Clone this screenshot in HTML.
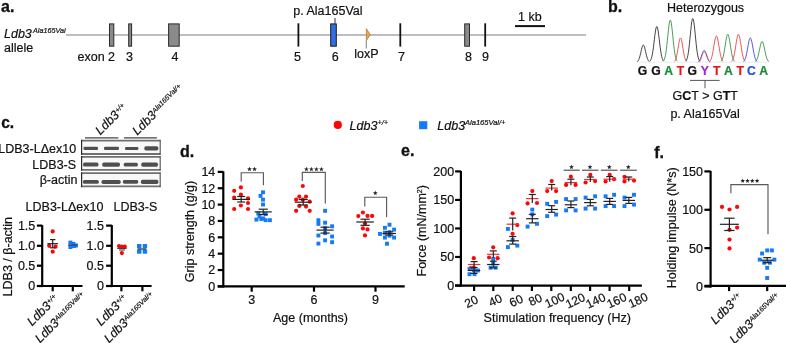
<!DOCTYPE html>
<html><head><meta charset="utf-8"><style>
html,body{margin:0;padding:0;background:#fff;width:786px;height:343px;overflow:hidden}
svg{display:block;will-change:transform;font-family:"Liberation Sans",sans-serif}
text{stroke-width:0.2px}
</style></head><body>
<svg width="786" height="343" viewBox="0 0 786 343">
<rect width="786" height="343" fill="#fff"/>
<text x="1" y="12.3" font-size="16" text-anchor="start" font-weight="bold" font-style="normal" fill="#111" stroke="#111" style="stroke-width:0.3px">a.</text>
<text x="4" y="37.6" font-size="12.5" text-anchor="start" font-weight="normal" font-style="italic" fill="#111"  stroke="#111">Ldb3</text>
<text x="33" y="33.4" font-size="7.2" text-anchor="start" font-weight="normal" font-style="italic" fill="#111"  stroke="#111">Ala165Val</text>
<text x="4" y="52.3" font-size="12.5" text-anchor="start" font-weight="normal" font-style="normal" fill="#111"  stroke="#111">allele</text>
<line x1="66" y1="35" x2="586" y2="35" stroke="#a8a8a8" stroke-width="1.6" />
<rect x="109.5" y="23.9" width="4.299999999999997" height="22.3" fill="#8a8a8a" stroke="#2a2a2a" stroke-width="1"/>
<rect x="128.7" y="23.9" width="2.9000000000000057" height="22.3" fill="#8a8a8a" stroke="#2a2a2a" stroke-width="1"/>
<rect x="168.6" y="23.9" width="10.599999999999994" height="22.3" fill="#8a8a8a" stroke="#2a2a2a" stroke-width="1"/>
<rect x="464.7" y="23.9" width="4.800000000000011" height="22.3" fill="#8a8a8a" stroke="#2a2a2a" stroke-width="1"/>
<rect x="330.7" y="23.9" width="5.6" height="22.3" fill="#2f6ee8" stroke="#1a1a1a" stroke-width="1"/>
<line x1="298.4" y1="23.3" x2="298.4" y2="46.6" stroke="#111" stroke-width="1.8" />
<line x1="400.3" y1="23.3" x2="400.3" y2="46.6" stroke="#111" stroke-width="1.8" />
<line x1="485.2" y1="23.3" x2="485.2" y2="46.6" stroke="#111" stroke-width="1.8" />
<line x1="335" y1="18" x2="335" y2="23.7" stroke="#333" stroke-width="1" />
<polygon points="366.3,28.6 370.3,34.6 366.3,40.8" fill="#f0a43a" stroke="#8a6a40" stroke-width="0.6"/>
<line x1="366.3" y1="40.8" x2="366.3" y2="48.4" stroke="#8a8a8a" stroke-width="1.1" />
<line x1="515" y1="26.1" x2="545" y2="26.1" stroke="#111" stroke-width="2" />
<text x="77.5" y="61" font-size="12.5" text-anchor="start" font-weight="normal" font-style="normal" fill="#111"  stroke="#111">exon 2</text>
<text x="126" y="61" font-size="12.5" text-anchor="start" font-weight="normal" font-style="normal" fill="#111"  stroke="#111">3</text>
<text x="171.4" y="61" font-size="12.5" text-anchor="start" font-weight="normal" font-style="normal" fill="#111"  stroke="#111">4</text>
<text x="293.9" y="61" font-size="12.5" text-anchor="start" font-weight="normal" font-style="normal" fill="#111"  stroke="#111">5</text>
<text x="331.7" y="61" font-size="12.5" text-anchor="start" font-weight="normal" font-style="normal" fill="#111"  stroke="#111">6</text>
<text x="398.1" y="61" font-size="12.5" text-anchor="start" font-weight="normal" font-style="normal" fill="#111"  stroke="#111">7</text>
<text x="465.1" y="61" font-size="12.5" text-anchor="start" font-weight="normal" font-style="normal" fill="#111"  stroke="#111">8</text>
<text x="482.1" y="61" font-size="12.5" text-anchor="start" font-weight="normal" font-style="normal" fill="#111"  stroke="#111">9</text>
<text x="354.2" y="57.8" font-size="12.5" text-anchor="start" font-weight="normal" font-style="normal" fill="#111"  stroke="#111">loxP</text>
<text x="293.3" y="15.2" font-size="12.5" text-anchor="start" font-weight="normal" font-style="normal" fill="#111"  stroke="#111">p. Ala165Val</text>
<text x="518" y="21" font-size="12.5" text-anchor="start" font-weight="normal" font-style="normal" fill="#111"  stroke="#111">1 kb</text>
<text x="608" y="11.9" font-size="16" text-anchor="start" font-weight="bold" font-style="normal" fill="#111" stroke="#111" style="stroke-width:0.3px">b.</text>
<text x="667" y="11.8" font-size="12.5" text-anchor="start" font-weight="normal" font-style="normal" fill="#111"  stroke="#111">Heterozygous</text>
<polyline points="637.02,61.75 637.47,61.46 637.92,61.02 638.37,60.39 638.81,59.52 639.26,58.39 639.71,56.97 640.16,55.29 640.61,53.39 641.06,51.40 641.51,49.43 641.95,47.65 642.40,46.23 642.85,45.32 643.30,45.00 643.75,45.32 644.20,46.23 644.65,47.65 645.09,49.43 645.54,51.40 645.99,53.39 646.44,55.29 646.89,56.97 647.34,58.39 647.79,59.52 648.23,60.39 648.68,61.02 649.13,61.46 649.58,61.75" fill="none" stroke="#222" stroke-width="0.85" stroke-linejoin="round"/>
<polyline points="649.89,61.27 650.39,60.66 650.88,59.75 651.37,58.44 651.87,56.64 652.36,54.28 652.85,51.34 653.35,47.85 653.84,43.92 654.33,39.77 654.83,35.69 655.32,32.00 655.81,29.06 656.31,27.16 656.80,26.50 657.29,27.16 657.79,29.06 658.28,32.00 658.77,35.69 659.27,39.77 659.76,43.92 660.25,47.85 660.75,51.34 661.24,54.28 661.73,56.64 662.23,58.44 662.72,59.75 663.21,60.66 663.71,61.27" fill="none" stroke="#222" stroke-width="0.85" stroke-linejoin="round"/>
<polyline points="663.39,61.10 663.89,60.38 664.38,59.31 664.87,57.76 665.37,55.64 665.86,52.87 666.35,49.39 666.85,45.27 667.34,40.65 667.83,35.75 668.33,30.94 668.82,26.59 669.31,23.12 669.81,20.88 670.30,20.10 670.79,20.88 671.29,23.12 671.78,26.59 672.27,30.94 672.77,35.75 673.26,40.65 673.75,45.27 674.25,49.39 674.74,52.87 675.23,55.64 675.73,57.76 676.22,59.31 676.71,60.38 677.21,61.10" fill="none" stroke="#2a8a3a" stroke-width="0.85" stroke-linejoin="round"/>
<polyline points="674.22,61.57 674.67,61.15 675.12,60.53 675.57,59.64 676.01,58.42 676.46,56.81 676.91,54.81 677.36,52.43 677.81,49.76 678.26,46.94 678.71,44.15 679.15,41.65 679.60,39.64 680.05,38.35 680.50,37.90 680.95,38.35 681.40,39.64 681.85,41.65 682.29,44.15 682.74,46.94 683.19,49.76 683.64,52.43 684.09,54.81 684.54,56.81 684.99,58.42 685.43,59.64 685.88,60.53 686.33,61.15 686.78,61.57" fill="none" stroke="#e83a3a" stroke-width="0.85" stroke-linejoin="round"/>
<polyline points="685.89,61.06 686.39,60.31 686.88,59.20 687.37,57.60 687.87,55.40 688.36,52.51 688.85,48.91 689.35,44.63 689.84,39.83 690.33,34.75 690.83,29.75 691.32,25.23 691.81,21.63 692.31,19.31 692.80,18.50 693.29,19.31 693.79,21.63 694.28,25.23 694.77,29.75 695.27,34.75 695.76,39.83 696.25,44.63 696.75,48.91 697.24,52.51 697.73,55.40 698.23,57.60 698.72,59.20 699.21,60.31 699.71,61.06" fill="none" stroke="#222" stroke-width="0.85" stroke-linejoin="round"/>
<polyline points="697.82,61.89 698.27,61.69 698.72,61.39 699.17,60.96 699.61,60.36 700.06,59.58 700.51,58.61 700.96,57.46 701.41,56.16 701.86,54.79 702.31,53.44 702.75,52.22 703.20,51.25 703.65,50.62 704.10,50.40 704.55,50.62 705.00,51.25 705.45,52.22 705.89,53.44 706.34,54.79 706.79,56.16 707.24,57.46 707.69,58.61 708.14,59.58 708.59,60.36 709.03,60.96 709.48,61.39 709.93,61.69 710.38,61.89" fill="none" stroke="#3a3ae8" stroke-width="0.85" stroke-linejoin="round"/>
<polyline points="709.49,61.52 709.99,61.07 710.48,60.40 710.97,59.44 711.47,58.12 711.96,56.39 712.45,54.23 712.95,51.67 713.44,48.79 713.93,45.74 714.43,42.74 714.92,40.04 715.41,37.88 715.91,36.48 716.40,36.00 716.89,36.48 717.39,37.88 717.88,40.04 718.37,42.74 718.87,45.74 719.36,48.79 719.85,51.67 720.35,54.23 720.84,56.39 721.33,58.12 721.83,59.44 722.32,60.40 722.81,61.07 723.31,61.52" fill="none" stroke="#e83a3a" stroke-width="0.85" stroke-linejoin="round"/>
<polyline points="720.89,61.47 721.39,61.00 721.88,60.28 722.37,59.26 722.87,57.86 723.36,56.01 723.85,53.71 724.35,50.98 724.84,47.92 725.33,44.67 725.83,41.48 726.32,38.60 726.81,36.30 727.31,34.81 727.80,34.30 728.29,34.81 728.79,36.30 729.28,38.60 729.77,41.48 730.27,44.67 730.76,47.92 731.25,50.98 731.75,53.71 732.24,56.01 732.73,57.86 733.23,59.26 733.72,60.28 734.21,61.00 734.71,61.47" fill="none" stroke="#2a8a3a" stroke-width="0.85" stroke-linejoin="round"/>
<polyline points="731.49,61.47 731.99,61.00 732.48,60.28 732.97,59.26 733.47,57.86 733.96,56.01 734.45,53.71 734.95,50.98 735.44,47.92 735.93,44.67 736.43,41.48 736.92,38.60 737.41,36.30 737.91,34.81 738.40,34.30 738.89,34.81 739.39,36.30 739.88,38.60 740.37,41.48 740.87,44.67 741.36,47.92 741.85,50.98 742.35,53.71 742.84,56.01 743.33,57.86 743.83,59.26 744.32,60.28 744.81,61.00 745.31,61.47" fill="none" stroke="#e83a3a" stroke-width="0.85" stroke-linejoin="round"/>
<polyline points="743.39,61.57 743.89,61.15 744.38,60.53 744.87,59.64 745.37,58.42 745.86,56.81 746.35,54.81 746.85,52.43 747.34,49.76 747.83,46.94 748.33,44.15 748.82,41.65 749.31,39.64 749.81,38.35 750.30,37.90 750.79,38.35 751.29,39.64 751.78,41.65 752.27,44.15 752.77,46.94 753.26,49.76 753.75,52.43 754.25,54.81 754.74,56.81 755.23,58.42 755.73,59.64 756.22,60.53 756.71,61.15 757.21,61.57" fill="none" stroke="#3a3ae8" stroke-width="0.85" stroke-linejoin="round"/>
<polyline points="755.19,61.66 755.69,61.30 756.18,60.77 756.67,60.01 757.17,58.96 757.66,57.59 758.15,55.87 758.65,53.84 759.14,51.55 759.63,49.13 760.13,46.75 760.62,44.61 761.11,42.89 761.61,41.78 762.10,41.40 762.59,41.78 763.09,42.89 763.58,44.61 764.07,46.75 764.57,49.13 765.06,51.55 765.55,53.84 766.05,55.87 766.54,57.59 767.03,58.96 767.53,60.01 768.02,60.77 768.51,61.30 769.01,61.66" fill="none" stroke="#2a8a3a" stroke-width="0.85" stroke-linejoin="round"/>
<path d="M699,62.2 C701,62.2 702,52 704.6,52 C707,52 708,62.2 710,62.2" fill="none" stroke="#e83a3a" stroke-width="0.7"/>
<line x1="637" y1="62.2" x2="767" y2="62.2" stroke="#d8d8d8" stroke-width="0.5" />
<text x="642.6" y="75.1" font-size="12.2" text-anchor="middle" font-weight="bold" font-style="normal" fill="#111"  stroke="#111">G</text>
<text x="656" y="75.1" font-size="12.2" text-anchor="middle" font-weight="bold" font-style="normal" fill="#111"  stroke="#111">G</text>
<text x="668.6" y="75.1" font-size="12.2" text-anchor="middle" font-weight="bold" font-style="normal" fill="#1a8a3a"  stroke="#1a8a3a">A</text>
<text x="680.5" y="75.1" font-size="12.2" text-anchor="middle" font-weight="bold" font-style="normal" fill="#e8141c"  stroke="#e8141c">T</text>
<text x="692.3" y="75.1" font-size="12.2" text-anchor="middle" font-weight="bold" font-style="normal" fill="#111"  stroke="#111">G</text>
<text x="704.8" y="75.1" font-size="12.2" text-anchor="middle" font-weight="bold" font-style="normal" fill="#9a28d0"  stroke="#9a28d0">Y</text>
<text x="716.7" y="75.1" font-size="12.2" text-anchor="middle" font-weight="bold" font-style="normal" fill="#e8141c"  stroke="#e8141c">T</text>
<text x="728.5" y="75.1" font-size="12.2" text-anchor="middle" font-weight="bold" font-style="normal" fill="#1a8a3a"  stroke="#1a8a3a">A</text>
<text x="740.3" y="75.1" font-size="12.2" text-anchor="middle" font-weight="bold" font-style="normal" fill="#e8141c"  stroke="#e8141c">T</text>
<text x="751.4" y="75.1" font-size="12.2" text-anchor="middle" font-weight="bold" font-style="normal" fill="#2050e8"  stroke="#2050e8">C</text>
<text x="763.7" y="75.1" font-size="12.2" text-anchor="middle" font-weight="bold" font-style="normal" fill="#1a8a3a"  stroke="#1a8a3a">A</text>
<line x1="690" y1="80.4" x2="719.6" y2="80.4" stroke="#555" stroke-width="1" />
<line x1="705" y1="80.4" x2="705" y2="88.2" stroke="#555" stroke-width="1" />
<text x="672.5" y="100.2" font-size="12.5" fill="#111" stroke="#111">G<tspan font-weight="bold">C</tspan>T &gt; G<tspan font-weight="bold">T</tspan>T</text>
<text x="670.4" y="117.8" font-size="12.5" text-anchor="start" font-weight="normal" font-style="normal" fill="#111"  stroke="#111">p. Ala165Val</text>
<text x="1.2" y="128.2" font-size="15.6" text-anchor="start" font-weight="bold" font-style="normal" fill="#111" stroke="#111" style="stroke-width:0.3px">c.</text>
<text transform="translate(100.3,135.4) rotate(-45)" font-size="12.5" font-style="italic" fill="#111" stroke="#111">Ldb3<tspan font-size="7" dy="-3.6" dx="0.3">+/+</tspan></text>
<text transform="translate(137.3,135.8) rotate(-45)" font-size="12.5" font-style="italic" fill="#111" stroke="#111">Ldb3<tspan font-size="7" dy="-3.6" dx="0.3">Ala165Val/+</tspan></text>
<line x1="85" y1="137.9" x2="118.3" y2="137.9" stroke="#444" stroke-width="1.3" />
<line x1="124" y1="137.9" x2="156.9" y2="137.9" stroke="#444" stroke-width="1.3" />
<rect x="81.7" y="140.4" width="78.2" height="13.899999999999995" fill="#f8f8f8" stroke="none" stroke-width="1"/>
<line x1="81.5" y1="140.70000000000002" x2="160.3" y2="140.70000000000002" stroke="#707070" stroke-width="1.8" />
<line x1="81.5" y1="154.0" x2="160.3" y2="154.0" stroke="#707070" stroke-width="1.8" />
<line x1="81.6" y1="139.8" x2="81.6" y2="154.9" stroke="#2a2a2a" stroke-width="1.2" />
<line x1="160.2" y1="139.8" x2="160.2" y2="154.9" stroke="#505050" stroke-width="1.1" />
<rect x="81.7" y="156.6" width="78.2" height="13.49999999999999" fill="#f8f8f8" stroke="none" stroke-width="1"/>
<line x1="81.5" y1="156.9" x2="160.3" y2="156.9" stroke="#707070" stroke-width="1.8" />
<line x1="81.5" y1="169.79999999999998" x2="160.3" y2="169.79999999999998" stroke="#707070" stroke-width="1.8" />
<line x1="81.6" y1="156" x2="81.6" y2="170.7" stroke="#2a2a2a" stroke-width="1.2" />
<line x1="160.2" y1="156" x2="160.2" y2="170.7" stroke="#505050" stroke-width="1.1" />
<rect x="81.7" y="172.79999999999998" width="78.2" height="13.900000000000023" fill="#f8f8f8" stroke="none" stroke-width="1"/>
<line x1="81.5" y1="173.1" x2="160.3" y2="173.1" stroke="#707070" stroke-width="1.8" />
<line x1="81.5" y1="186.4" x2="160.3" y2="186.4" stroke="#707070" stroke-width="1.8" />
<line x1="81.6" y1="172.2" x2="81.6" y2="187.3" stroke="#2a2a2a" stroke-width="1.2" />
<line x1="160.2" y1="172.2" x2="160.2" y2="187.3" stroke="#505050" stroke-width="1.1" />
<defs><filter id="bl" x="-20%" y="-100%" width="140%" height="300%"><feGaussianBlur stdDeviation="0.75"/></filter></defs>
<rect x="83.5" y="146.80" width="14.50" height="3.2" rx="1.28" fill="#505050" filter="url(#bl)"/>
<rect x="104" y="146.70" width="15.00" height="3.4" rx="1.36" fill="#505050" filter="url(#bl)"/>
<rect x="125" y="146.90" width="13.40" height="3.0" rx="1.20" fill="#505050" filter="url(#bl)"/>
<rect x="144.3" y="146.30" width="14.10" height="4.2" rx="1.68" fill="#505050" filter="url(#bl)"/>
<rect x="83" y="162.60" width="15.50" height="4" rx="1.60" fill="#505050" filter="url(#bl)"/>
<rect x="102.2" y="162.50" width="17.80" height="4.2" rx="1.68" fill="#505050" filter="url(#bl)"/>
<rect x="123.7" y="162.70" width="14.20" height="3.8" rx="1.52" fill="#505050" filter="url(#bl)"/>
<rect x="141.2" y="162.50" width="16.80" height="4.2" rx="1.68" fill="#505050" filter="url(#bl)"/>
<rect x="82.9" y="180.00" width="15.90" height="3.8" rx="1.52" fill="#505050" filter="url(#bl)"/>
<rect x="101.5" y="179.90" width="19.20" height="4" rx="1.60" fill="#505050" filter="url(#bl)"/>
<rect x="122.9" y="180.10" width="15.30" height="3.6" rx="1.44" fill="#505050" filter="url(#bl)"/>
<rect x="140.9" y="179.80" width="17.50" height="4.2" rx="1.68" fill="#505050" filter="url(#bl)"/>
<text x="76.1" y="153.4" font-size="12.5" text-anchor="end" font-weight="normal" font-style="normal" fill="#111"  stroke="#111">LDB3-L&#916;ex10</text>
<text x="76.1" y="168.5" font-size="12.5" text-anchor="end" font-weight="normal" font-style="normal" fill="#111"  stroke="#111">LDB3-S</text>
<text x="77.4" y="183.7" font-size="12.5" text-anchor="end" font-weight="normal" font-style="normal" fill="#111"  stroke="#111">&#946;-actin</text>
<text x="25.6" y="210.8" font-size="12.5" text-anchor="start" font-weight="normal" font-style="normal" fill="#111"  stroke="#111">LDB3-L&#916;ex10</text>
<text x="113.5" y="210.8" font-size="12.5" text-anchor="start" font-weight="normal" font-style="normal" fill="#111"  stroke="#111">LDB3-S</text>
<line x1="42.2" y1="225.1" x2="42.2" y2="287.1" stroke="#000" stroke-width="2.2" />
<line x1="36.9" y1="225.6" x2="42.2" y2="225.6" stroke="#000" stroke-width="2.2" />
<text x="35.3" y="230.0" font-size="12.5" text-anchor="end" font-weight="normal" font-style="normal" fill="#111"  stroke="#111">1.5</text>
<line x1="36.9" y1="245.8" x2="42.2" y2="245.8" stroke="#000" stroke-width="2.2" />
<text x="35.3" y="250.20000000000002" font-size="12.5" text-anchor="end" font-weight="normal" font-style="normal" fill="#111"  stroke="#111">1.0</text>
<line x1="36.9" y1="265.7" x2="42.2" y2="265.7" stroke="#000" stroke-width="2.2" />
<text x="35.3" y="270.09999999999997" font-size="12.5" text-anchor="end" font-weight="normal" font-style="normal" fill="#111"  stroke="#111">0.5</text>
<line x1="36.9" y1="286" x2="42.2" y2="286" stroke="#000" stroke-width="2.2" />
<text x="35.3" y="290.4" font-size="12.5" text-anchor="end" font-weight="normal" font-style="normal" fill="#111"  stroke="#111">0</text>
<line x1="36.9" y1="286" x2="82.5" y2="286" stroke="#000" stroke-width="2.2" />
<line x1="52.7" y1="286" x2="52.7" y2="291.3" stroke="#000" stroke-width="2.2" />
<line x1="72.8" y1="286" x2="72.8" y2="291.3" stroke="#000" stroke-width="2.2" />
<circle cx="52.7" cy="231.4" r="2.1" fill="#fc0707"/>
<circle cx="49.2" cy="245.8" r="2.1" fill="#fc0707"/>
<circle cx="55.6" cy="246.7" r="2.1" fill="#fc0707"/>
<circle cx="52.7" cy="251.7" r="2.1" fill="#fc0707"/>
<line x1="47.400000000000006" y1="243.7" x2="58.0" y2="243.7" stroke="#222" stroke-width="1.2" />
<line x1="52.7" y1="239.6" x2="52.7" y2="247.8" stroke="#222" stroke-width="1.2" />
<line x1="50.0" y1="239.6" x2="55.400000000000006" y2="239.6" stroke="#222" stroke-width="1.2" />
<line x1="50.0" y1="247.8" x2="55.400000000000006" y2="247.8" stroke="#222" stroke-width="1.2" />
<rect x="68.40" y="240.60" width="4" height="4" fill="#147af5"/>
<rect x="68.40" y="245.00" width="4" height="4" fill="#147af5"/>
<rect x="71.40" y="241.90" width="4" height="4" fill="#147af5"/>
<rect x="73.90" y="243.50" width="4" height="4" fill="#147af5"/>
<rect x="72.00" y="244.00" width="4" height="4" fill="#147af5"/>
<line x1="68" y1="245" x2="77.5" y2="245" stroke="#333" stroke-width="1" />
<line x1="111.8" y1="225.1" x2="111.8" y2="287.1" stroke="#000" stroke-width="2.2" />
<line x1="106.1" y1="225.6" x2="111.8" y2="225.6" stroke="#000" stroke-width="2.2" />
<text x="104" y="230.0" font-size="12.5" text-anchor="end" font-weight="normal" font-style="normal" fill="#111"  stroke="#111">1.5</text>
<line x1="106.1" y1="245.8" x2="111.8" y2="245.8" stroke="#000" stroke-width="2.2" />
<text x="104" y="250.20000000000002" font-size="12.5" text-anchor="end" font-weight="normal" font-style="normal" fill="#111"  stroke="#111">1.0</text>
<line x1="106.1" y1="265.7" x2="111.8" y2="265.7" stroke="#000" stroke-width="2.2" />
<text x="104" y="270.09999999999997" font-size="12.5" text-anchor="end" font-weight="normal" font-style="normal" fill="#111"  stroke="#111">0.5</text>
<line x1="106.1" y1="286" x2="111.8" y2="286" stroke="#000" stroke-width="2.2" />
<text x="104" y="290.4" font-size="12.5" text-anchor="end" font-weight="normal" font-style="normal" fill="#111"  stroke="#111">0</text>
<line x1="106.1" y1="286" x2="151.6" y2="286" stroke="#000" stroke-width="2.2" />
<line x1="121.4" y1="286" x2="121.4" y2="291.3" stroke="#000" stroke-width="2.2" />
<line x1="142.4" y1="286" x2="142.4" y2="291.3" stroke="#000" stroke-width="2.2" />
<circle cx="119" cy="246.1" r="2.1" fill="#fc0707"/>
<circle cx="121.9" cy="246.7" r="2.1" fill="#fc0707"/>
<circle cx="124.8" cy="246.7" r="2.1" fill="#fc0707"/>
<circle cx="121.9" cy="253.1" r="2.1" fill="#fc0707"/>
<line x1="117.2" y1="248.4" x2="126.6" y2="248.4" stroke="#333" stroke-width="1" />
<line x1="119" y1="250" x2="125" y2="250" stroke="#333" stroke-width="1" />
<rect x="137.00" y="244.00" width="4.4" height="4.4" fill="#147af5"/>
<rect x="142.70" y="244.00" width="4.4" height="4.4" fill="#147af5"/>
<rect x="137.00" y="249.30" width="4.4" height="4.4" fill="#147af5"/>
<rect x="142.70" y="249.30" width="4.4" height="4.4" fill="#147af5"/>
<line x1="138" y1="249" x2="146" y2="249" stroke="#333" stroke-width="1.2" />
<text transform="translate(12.3,296.4) rotate(-90)" font-size="12.5" fill="#111" stroke="#111">LDB3 / &#946;-actin</text>
<text transform="translate(32,326.5) rotate(-45)" font-size="12.5" font-style="italic" fill="#111" stroke="#111">Ldb3<tspan font-size="7" dy="-3.6" dx="0.3">+/+</tspan></text>
<text transform="translate(40,343.5) rotate(-45)" font-size="12.5" font-style="italic" fill="#111" stroke="#111">Ldb3<tspan font-size="7" dy="-3.6" dx="0.3">Ala165Val/+</tspan></text>
<text transform="translate(101,326.5) rotate(-45)" font-size="12.5" font-style="italic" fill="#111" stroke="#111">Ldb3<tspan font-size="7" dy="-3.6" dx="0.3">+/+</tspan></text>
<text transform="translate(109,343.5) rotate(-45)" font-size="12.5" font-style="italic" fill="#111" stroke="#111">Ldb3<tspan font-size="7" dy="-3.6" dx="0.3">Ala165Val/+</tspan></text>
<circle cx="337.8" cy="124.9" r="4.1" fill="#fc0707"/>
<text x="349.6" y="129.6" font-size="12.5" font-style="italic" fill="#111" stroke="#111">Ldb3<tspan font-size="7.5" dy="-4.5">+/+</tspan></text>
<rect x="419.1" y="121.2" width="8.2" height="8" fill="#147af5" stroke="none" stroke-width="1"/>
<text x="437.3" y="129.6" font-size="12.5" font-style="italic" fill="#111" stroke="#111">Ldb3<tspan font-size="7.5" dy="-4.5">Ala165Val/+</tspan></text>
<text x="180" y="156.7" font-size="16" text-anchor="start" font-weight="bold" font-style="normal" fill="#111" stroke="#111" style="stroke-width:0.3px">d.</text>
<line x1="223.3" y1="171.38" x2="223.3" y2="287.5" stroke="#000" stroke-width="2.2" />
<line x1="217.7" y1="171.88" x2="223.3" y2="171.88" stroke="#000" stroke-width="2.2" />
<text x="215.3" y="176.28" font-size="12.5" text-anchor="end" font-weight="normal" font-style="normal" fill="#111"  stroke="#111">14</text>
<line x1="217.7" y1="188.23999999999998" x2="223.3" y2="188.23999999999998" stroke="#000" stroke-width="2.2" />
<text x="215.3" y="192.64" font-size="12.5" text-anchor="end" font-weight="normal" font-style="normal" fill="#111"  stroke="#111">12</text>
<line x1="217.7" y1="204.59999999999997" x2="223.3" y2="204.59999999999997" stroke="#000" stroke-width="2.2" />
<text x="215.3" y="208.99999999999997" font-size="12.5" text-anchor="end" font-weight="normal" font-style="normal" fill="#111"  stroke="#111">10</text>
<line x1="217.7" y1="220.95999999999998" x2="223.3" y2="220.95999999999998" stroke="#000" stroke-width="2.2" />
<text x="215.3" y="225.35999999999999" font-size="12.5" text-anchor="end" font-weight="normal" font-style="normal" fill="#111"  stroke="#111">8</text>
<line x1="217.7" y1="237.32" x2="223.3" y2="237.32" stroke="#000" stroke-width="2.2" />
<text x="215.3" y="241.72" font-size="12.5" text-anchor="end" font-weight="normal" font-style="normal" fill="#111"  stroke="#111">6</text>
<line x1="217.7" y1="253.67999999999998" x2="223.3" y2="253.67999999999998" stroke="#000" stroke-width="2.2" />
<text x="215.3" y="258.08" font-size="12.5" text-anchor="end" font-weight="normal" font-style="normal" fill="#111"  stroke="#111">4</text>
<line x1="217.7" y1="270.03999999999996" x2="223.3" y2="270.03999999999996" stroke="#000" stroke-width="2.2" />
<text x="215.3" y="274.43999999999994" font-size="12.5" text-anchor="end" font-weight="normal" font-style="normal" fill="#111"  stroke="#111">2</text>
<line x1="217.7" y1="286.4" x2="223.3" y2="286.4" stroke="#000" stroke-width="2.2" />
<text x="215.3" y="290.79999999999995" font-size="12.5" text-anchor="end" font-weight="normal" font-style="normal" fill="#111"  stroke="#111">0</text>
<line x1="217.7" y1="286.4" x2="404.7" y2="286.4" stroke="#000" stroke-width="2.2" />
<line x1="251.7" y1="286.4" x2="251.7" y2="291.7" stroke="#000" stroke-width="2.2" />
<line x1="314" y1="286.4" x2="314" y2="291.7" stroke="#000" stroke-width="2.2" />
<line x1="375.5" y1="286.4" x2="375.5" y2="291.7" stroke="#000" stroke-width="2.2" />
<text x="251.7" y="303.6" font-size="12.5" text-anchor="middle" font-weight="normal" font-style="normal" fill="#111"  stroke="#111">3</text>
<text x="314" y="303.6" font-size="12.5" text-anchor="middle" font-weight="normal" font-style="normal" fill="#111"  stroke="#111">6</text>
<text x="375.5" y="303.6" font-size="12.5" text-anchor="middle" font-weight="normal" font-style="normal" fill="#111"  stroke="#111">9</text>
<text x="273" y="321.7" font-size="12.5" text-anchor="start" font-weight="normal" font-style="normal" fill="#111"  stroke="#111">Age (months)</text>
<text transform="translate(194.3,282.2) rotate(-90)" font-size="12.5" fill="#111" stroke="#111">Grip strength (g/g)</text>
<polyline points="241.2,181.7 241.2,172.7 263.4,172.7 263.4,185.2" fill="none" stroke="#5a5a5a" stroke-width="1.15"/>
<polygon points="249.50,166.70 250.12,168.35 251.88,168.43 250.50,169.52 250.97,171.22 249.50,170.25 248.03,171.22 248.50,169.52 247.12,168.43 248.88,168.35" fill="#222"/>
<polygon points="254.50,166.70 255.12,168.35 256.88,168.43 255.50,169.52 255.97,171.22 254.50,170.25 253.03,171.22 253.50,169.52 252.12,168.43 253.88,168.35" fill="#222"/>
<polyline points="302.3,181 302.3,172.4 325.3,172.4 325.3,203.4" fill="none" stroke="#5a5a5a" stroke-width="1.15"/>
<polygon points="306.40,166.80 307.02,168.45 308.78,168.53 307.40,169.62 307.87,171.32 306.40,170.35 304.93,171.32 305.40,169.62 304.02,168.53 305.78,168.45" fill="#222"/>
<polygon points="311.40,166.80 312.02,168.45 313.78,168.53 312.40,169.62 312.87,171.32 311.40,170.35 309.93,171.32 310.40,169.62 309.02,168.53 310.78,168.45" fill="#222"/>
<polygon points="316.40,166.80 317.02,168.45 318.78,168.53 317.40,169.62 317.87,171.32 316.40,170.35 314.93,171.32 315.40,169.62 314.02,168.53 315.78,168.45" fill="#222"/>
<polygon points="321.40,166.80 322.02,168.45 323.78,168.53 322.40,169.62 322.87,171.32 321.40,170.35 319.93,171.32 320.40,169.62 319.02,168.53 320.78,168.45" fill="#222"/>
<polyline points="364.8,206.5 364.8,197.2 386.6,197.2 386.6,217" fill="none" stroke="#5a5a5a" stroke-width="1.15"/>
<polygon points="375.30,190.60 375.92,192.25 377.68,192.33 376.30,193.42 376.77,195.12 375.30,194.15 373.83,195.12 374.30,193.42 372.92,192.33 374.68,192.25" fill="#222"/>
<circle cx="240.9" cy="187.4" r="2.1" fill="#fc0707"/>
<circle cx="234.2" cy="190.8" r="2.1" fill="#fc0707"/>
<circle cx="240.9" cy="194.7" r="2.1" fill="#fc0707"/>
<circle cx="234.2" cy="197.5" r="2.1" fill="#fc0707"/>
<circle cx="248" cy="198.4" r="2.1" fill="#fc0707"/>
<circle cx="248" cy="203" r="2.1" fill="#fc0707"/>
<circle cx="240.9" cy="205.5" r="2.1" fill="#fc0707"/>
<circle cx="234.2" cy="209" r="2.1" fill="#fc0707"/>
<circle cx="248" cy="209" r="2.1" fill="#fc0707"/>
<line x1="232.39999999999998" y1="199.4" x2="250.0" y2="199.4" stroke="#222" stroke-width="1.2" />
<line x1="241.2" y1="196.5" x2="241.2" y2="202" stroke="#222" stroke-width="1.2" />
<line x1="237.2" y1="196.5" x2="245.2" y2="196.5" stroke="#222" stroke-width="1.2" />
<line x1="237.2" y1="202" x2="245.2" y2="202" stroke="#222" stroke-width="1.2" />
<rect x="261.05" y="190.35" width="3.9" height="3.9" fill="#147af5"/>
<rect x="258.55" y="193.95" width="3.9" height="3.9" fill="#147af5"/>
<rect x="261.05" y="197.65" width="3.9" height="3.9" fill="#147af5"/>
<rect x="261.05" y="202.55" width="3.9" height="3.9" fill="#147af5"/>
<rect x="256.35" y="211.55" width="3.9" height="3.9" fill="#147af5"/>
<rect x="263.65" y="212.15" width="3.9" height="3.9" fill="#147af5"/>
<rect x="254.45" y="217.65" width="3.9" height="3.9" fill="#147af5"/>
<rect x="259.35" y="217.05" width="3.9" height="3.9" fill="#147af5"/>
<rect x="263.65" y="218.25" width="3.9" height="3.9" fill="#147af5"/>
<rect x="267.95" y="218.25" width="3.9" height="3.9" fill="#147af5"/>
<rect x="257.55" y="214.55" width="3.9" height="3.9" fill="#147af5"/>
<rect x="261.25" y="216.45" width="3.9" height="3.9" fill="#147af5"/>
<line x1="254.6" y1="211.9" x2="271.8" y2="211.9" stroke="#222" stroke-width="1.2" />
<line x1="263.2" y1="209.2" x2="263.2" y2="214.5" stroke="#222" stroke-width="1.2" />
<line x1="258.59999999999997" y1="209.2" x2="267.8" y2="209.2" stroke="#222" stroke-width="1.2" />
<line x1="258.59999999999997" y1="214.5" x2="267.8" y2="214.5" stroke="#222" stroke-width="1.2" />
<circle cx="302.8" cy="186" r="2.1" fill="#fc0707"/>
<circle cx="299.3" cy="196.7" r="2.1" fill="#fc0707"/>
<circle cx="306" cy="196.7" r="2.1" fill="#fc0707"/>
<circle cx="296.1" cy="199.7" r="2.1" fill="#fc0707"/>
<circle cx="302.8" cy="199.7" r="2.1" fill="#fc0707"/>
<circle cx="309.7" cy="201.7" r="2.1" fill="#fc0707"/>
<circle cx="299.3" cy="205.9" r="2.1" fill="#fc0707"/>
<circle cx="306" cy="206.6" r="2.1" fill="#fc0707"/>
<circle cx="296.1" cy="210.8" r="2.1" fill="#fc0707"/>
<circle cx="309.7" cy="210.8" r="2.1" fill="#fc0707"/>
<line x1="294.8" y1="202.2" x2="311.59999999999997" y2="202.2" stroke="#222" stroke-width="1.2" />
<line x1="303.2" y1="199.5" x2="303.2" y2="205" stroke="#222" stroke-width="1.2" />
<line x1="298.7" y1="199.5" x2="307.7" y2="199.5" stroke="#222" stroke-width="1.2" />
<line x1="298.7" y1="205" x2="307.7" y2="205" stroke="#222" stroke-width="1.2" />
<rect x="323.15" y="208.85" width="3.9" height="3.9" fill="#147af5"/>
<rect x="316.45" y="218.25" width="3.9" height="3.9" fill="#147af5"/>
<rect x="316.45" y="221.95" width="3.9" height="3.9" fill="#147af5"/>
<rect x="323.15" y="220.75" width="3.9" height="3.9" fill="#147af5"/>
<rect x="330.15" y="224.35" width="3.9" height="3.9" fill="#147af5"/>
<rect x="323.15" y="226.25" width="3.9" height="3.9" fill="#147af5"/>
<rect x="323.15" y="231.15" width="3.9" height="3.9" fill="#147af5"/>
<rect x="316.45" y="233.55" width="3.9" height="3.9" fill="#147af5"/>
<rect x="330.15" y="234.55" width="3.9" height="3.9" fill="#147af5"/>
<rect x="323.15" y="238.35" width="3.9" height="3.9" fill="#147af5"/>
<rect x="330.15" y="240.25" width="3.9" height="3.9" fill="#147af5"/>
<rect x="316.45" y="241.65" width="3.9" height="3.9" fill="#147af5"/>
<line x1="316.5" y1="230.1" x2="333.70000000000005" y2="230.1" stroke="#222" stroke-width="1.2" />
<line x1="325.1" y1="227.2" x2="325.1" y2="233.1" stroke="#222" stroke-width="1.2" />
<line x1="320.5" y1="227.2" x2="329.70000000000005" y2="227.2" stroke="#222" stroke-width="1.2" />
<line x1="320.5" y1="233.1" x2="329.70000000000005" y2="233.1" stroke="#222" stroke-width="1.2" />
<circle cx="362.9" cy="212.5" r="2.1" fill="#fc0707"/>
<circle cx="358.3" cy="216.1" r="2.1" fill="#fc0707"/>
<circle cx="367.5" cy="215.9" r="2.1" fill="#fc0707"/>
<circle cx="372.1" cy="215.9" r="2.1" fill="#fc0707"/>
<circle cx="365" cy="223.5" r="2.1" fill="#fc0707"/>
<circle cx="362.9" cy="228.4" r="2.1" fill="#fc0707"/>
<circle cx="367.5" cy="229.4" r="2.1" fill="#fc0707"/>
<circle cx="365" cy="235.4" r="2.1" fill="#fc0707"/>
<line x1="356.3" y1="222" x2="373.90000000000003" y2="222" stroke="#222" stroke-width="1.2" />
<line x1="365.1" y1="219.2" x2="365.1" y2="225.3" stroke="#222" stroke-width="1.2" />
<line x1="360.5" y1="219.2" x2="369.70000000000005" y2="219.2" stroke="#222" stroke-width="1.2" />
<line x1="360.5" y1="225.3" x2="369.70000000000005" y2="225.3" stroke="#222" stroke-width="1.2" />
<rect x="387.55" y="222.75" width="3.9" height="3.9" fill="#147af5"/>
<rect x="382.95" y="225.85" width="3.9" height="3.9" fill="#147af5"/>
<rect x="392.15" y="227.65" width="3.9" height="3.9" fill="#147af5"/>
<rect x="378.05" y="231.95" width="3.9" height="3.9" fill="#147af5"/>
<rect x="382.95" y="230.75" width="3.9" height="3.9" fill="#147af5"/>
<rect x="387.55" y="230.15" width="3.9" height="3.9" fill="#147af5"/>
<rect x="382.95" y="235.65" width="3.9" height="3.9" fill="#147af5"/>
<rect x="387.55" y="233.75" width="3.9" height="3.9" fill="#147af5"/>
<rect x="392.15" y="235.65" width="3.9" height="3.9" fill="#147af5"/>
<rect x="385.05" y="241.75" width="3.9" height="3.9" fill="#147af5"/>
<line x1="382.4" y1="233.5" x2="396.0" y2="233.5" stroke="#222" stroke-width="1.2" />
<line x1="389.2" y1="231.8" x2="389.2" y2="235.1" stroke="#222" stroke-width="1.2" />
<line x1="385.2" y1="231.8" x2="393.2" y2="231.8" stroke="#222" stroke-width="1.2" />
<line x1="385.2" y1="235.1" x2="393.2" y2="235.1" stroke="#222" stroke-width="1.2" />
<text x="401" y="155.8" font-size="16" text-anchor="start" font-weight="bold" font-style="normal" fill="#111" stroke="#111" style="stroke-width:0.3px">e.</text>
<line x1="460.9" y1="170.9" x2="460.9" y2="286.6" stroke="#000" stroke-width="2.2" />
<line x1="455.1" y1="171.4" x2="460.9" y2="171.4" stroke="#000" stroke-width="2.2" />
<text x="454.1" y="175.8" font-size="12.5" text-anchor="end" font-weight="normal" font-style="normal" fill="#111"  stroke="#111">200</text>
<line x1="455.1" y1="199.925" x2="460.9" y2="199.925" stroke="#000" stroke-width="2.2" />
<text x="454.1" y="204.32500000000002" font-size="12.5" text-anchor="end" font-weight="normal" font-style="normal" fill="#111"  stroke="#111">150</text>
<line x1="455.1" y1="228.45" x2="460.9" y2="228.45" stroke="#000" stroke-width="2.2" />
<text x="454.1" y="232.85" font-size="12.5" text-anchor="end" font-weight="normal" font-style="normal" fill="#111"  stroke="#111">100</text>
<line x1="455.1" y1="256.975" x2="460.9" y2="256.975" stroke="#000" stroke-width="2.2" />
<text x="454.1" y="261.375" font-size="12.5" text-anchor="end" font-weight="normal" font-style="normal" fill="#111"  stroke="#111">50</text>
<line x1="455.1" y1="285.5" x2="460.9" y2="285.5" stroke="#000" stroke-width="2.2" />
<text x="454.1" y="289.9" font-size="12.5" text-anchor="end" font-weight="normal" font-style="normal" fill="#111"  stroke="#111">0</text>
<line x1="455.1" y1="285.7" x2="641.9" y2="285.7" stroke="#000" stroke-width="2.2" />
<line x1="474.1" y1="285.7" x2="474.1" y2="291.0" stroke="#000" stroke-width="2.2" />
<line x1="493.3" y1="285.7" x2="493.3" y2="291.0" stroke="#000" stroke-width="2.2" />
<line x1="512.7" y1="285.7" x2="512.7" y2="291.0" stroke="#000" stroke-width="2.2" />
<line x1="531.9" y1="285.7" x2="531.9" y2="291.0" stroke="#000" stroke-width="2.2" />
<line x1="551.3" y1="285.7" x2="551.3" y2="291.0" stroke="#000" stroke-width="2.2" />
<line x1="570.8" y1="285.7" x2="570.8" y2="291.0" stroke="#000" stroke-width="2.2" />
<line x1="590.1" y1="285.7" x2="590.1" y2="291.0" stroke="#000" stroke-width="2.2" />
<line x1="609.6" y1="285.7" x2="609.6" y2="291.0" stroke="#000" stroke-width="2.2" />
<line x1="629.2" y1="285.7" x2="629.2" y2="291.0" stroke="#000" stroke-width="2.2" />
<text transform="translate(471.2,301.5) rotate(-25)" y="4.2" text-anchor="middle" font-size="12.1" fill="#111" stroke="#111">20</text>
<text transform="translate(495.2,300.3) rotate(-25)" y="4.2" text-anchor="middle" font-size="12.1" fill="#111" stroke="#111">40</text>
<text transform="translate(516.1,300.6) rotate(-25)" y="4.2" text-anchor="middle" font-size="12.1" fill="#111" stroke="#111">60</text>
<text transform="translate(535.2,299.6) rotate(-25)" y="4.2" text-anchor="middle" font-size="12.1" fill="#111" stroke="#111">80</text>
<text transform="translate(554.7,300.2) rotate(-25)" y="4.2" text-anchor="middle" font-size="12.1" fill="#111" stroke="#111">100</text>
<text transform="translate(575.3,300.6) rotate(-25)" y="4.2" text-anchor="middle" font-size="12.1" fill="#111" stroke="#111">120</text>
<text transform="translate(595.6,300.6) rotate(-25)" y="4.2" text-anchor="middle" font-size="12.1" fill="#111" stroke="#111">140</text>
<text transform="translate(616.6,300.4) rotate(-25)" y="4.2" text-anchor="middle" font-size="12.1" fill="#111" stroke="#111">160</text>
<text transform="translate(638,300.2) rotate(-25)" y="4.2" text-anchor="middle" font-size="12.1" fill="#111" stroke="#111">180</text>
<text x="483.6" y="321.8" font-size="12.5" text-anchor="start" font-weight="normal" font-style="normal" fill="#111"  stroke="#111">Stimulation frequency (Hz)</text>
<text transform="translate(426.3,276.5) rotate(-90)" font-size="12.5" fill="#111" stroke="#111">Force (mN/mm<tspan font-size="7" dy="-4.5">2</tspan><tspan dy="4.5">)</tspan></text>
<circle cx="473.8" cy="258.2" r="2.1" fill="#fc0707"/>
<circle cx="473.8" cy="267.7" r="2.1" fill="#fc0707"/>
<circle cx="470.5" cy="268" r="2.1" fill="#fc0707"/>
<rect x="467.55" y="267.05" width="3.9" height="3.9" fill="#147af5"/>
<rect x="467.55" y="272.25" width="3.9" height="3.9" fill="#147af5"/>
<rect x="472.55" y="272.25" width="3.9" height="3.9" fill="#147af5"/>
<rect x="476.05" y="268.55" width="3.9" height="3.9" fill="#147af5"/>
<rect x="472.05" y="268.05" width="3.9" height="3.9" fill="#147af5"/>
<line x1="467.90000000000003" y1="264.5" x2="480.3" y2="264.5" stroke="#f03030" stroke-width="1.2" />
<line x1="474.1" y1="261.6" x2="474.1" y2="267.4" stroke="#222" stroke-width="1.2" />
<line x1="470.6" y1="261.6" x2="477.6" y2="261.6" stroke="#222" stroke-width="1.2" />
<line x1="467.90000000000003" y1="270.5" x2="480.3" y2="270.5" stroke="#222" stroke-width="1.2" />
<line x1="474.1" y1="267.6" x2="474.1" y2="273.4" stroke="#222" stroke-width="1.2" />
<line x1="470.6" y1="267.6" x2="477.6" y2="267.6" stroke="#222" stroke-width="1.2" />
<line x1="470.6" y1="273.4" x2="477.6" y2="273.4" stroke="#222" stroke-width="1.2" />
<circle cx="493.2" cy="247.3" r="2.1" fill="#fc0707"/>
<circle cx="489.1" cy="257.5" r="2.1" fill="#fc0707"/>
<circle cx="497.6" cy="258.2" r="2.1" fill="#fc0707"/>
<rect x="491.25" y="256.95" width="3.9" height="3.9" fill="#147af5"/>
<rect x="491.25" y="261.35" width="3.9" height="3.9" fill="#147af5"/>
<rect x="488.65" y="265.75" width="3.9" height="3.9" fill="#147af5"/>
<rect x="493.75" y="265.75" width="3.9" height="3.9" fill="#147af5"/>
<line x1="487.1" y1="254.3" x2="499.5" y2="254.3" stroke="#f03030" stroke-width="1.2" />
<line x1="493.3" y1="250.9" x2="493.3" y2="257.7" stroke="#222" stroke-width="1.2" />
<line x1="489.8" y1="250.9" x2="496.8" y2="250.9" stroke="#222" stroke-width="1.2" />
<line x1="487.1" y1="264.5" x2="499.5" y2="264.5" stroke="#222" stroke-width="1.2" />
<line x1="493.3" y1="261.2" x2="493.3" y2="267.8" stroke="#222" stroke-width="1.2" />
<line x1="489.8" y1="261.2" x2="496.8" y2="261.2" stroke="#222" stroke-width="1.2" />
<line x1="489.8" y1="267.8" x2="496.8" y2="267.8" stroke="#222" stroke-width="1.2" />
<circle cx="512.6" cy="213.4" r="2.1" fill="#fc0707"/>
<circle cx="517.3" cy="225.1" r="2.1" fill="#fc0707"/>
<circle cx="512.6" cy="233.8" r="2.1" fill="#fc0707"/>
<rect x="505.95" y="226.95" width="3.9" height="3.9" fill="#147af5"/>
<rect x="510.65" y="237.95" width="3.9" height="3.9" fill="#147af5"/>
<rect x="505.95" y="245.15" width="3.9" height="3.9" fill="#147af5"/>
<rect x="515.35" y="243.65" width="3.9" height="3.9" fill="#147af5"/>
<line x1="506.50000000000006" y1="224.2" x2="518.9000000000001" y2="224.2" stroke="#f03030" stroke-width="1.2" />
<line x1="512.7" y1="218.1" x2="512.7" y2="230.4" stroke="#222" stroke-width="1.2" />
<line x1="509.20000000000005" y1="218.1" x2="516.2" y2="218.1" stroke="#222" stroke-width="1.2" />
<line x1="506.50000000000006" y1="240.8" x2="518.9000000000001" y2="240.8" stroke="#222" stroke-width="1.2" />
<line x1="512.7" y1="236.5" x2="512.7" y2="244.1" stroke="#222" stroke-width="1.2" />
<line x1="509.20000000000005" y1="236.5" x2="516.2" y2="236.5" stroke="#222" stroke-width="1.2" />
<line x1="509.20000000000005" y1="244.1" x2="516.2" y2="244.1" stroke="#222" stroke-width="1.2" />
<circle cx="532.3" cy="191.1" r="2.1" fill="#fc0707"/>
<circle cx="527.6" cy="203.4" r="2.1" fill="#fc0707"/>
<circle cx="537" cy="203" r="2.1" fill="#fc0707"/>
<rect x="530.35" y="207.65" width="3.9" height="3.9" fill="#147af5"/>
<rect x="530.35" y="212.35" width="3.9" height="3.9" fill="#147af5"/>
<rect x="525.65" y="224.65" width="3.9" height="3.9" fill="#147af5"/>
<rect x="535.05" y="221.85" width="3.9" height="3.9" fill="#147af5"/>
<line x1="526.0999999999999" y1="198.6" x2="538.5" y2="198.6" stroke="#f03030" stroke-width="1.2" />
<line x1="532.3" y1="194.5" x2="532.3" y2="203" stroke="#222" stroke-width="1.2" />
<line x1="528.8" y1="194.5" x2="535.8" y2="194.5" stroke="#222" stroke-width="1.2" />
<line x1="526.0999999999999" y1="218.7" x2="538.5" y2="218.7" stroke="#222" stroke-width="1.2" />
<line x1="532.3" y1="214.3" x2="532.3" y2="222.9" stroke="#222" stroke-width="1.2" />
<line x1="528.8" y1="214.3" x2="535.8" y2="214.3" stroke="#222" stroke-width="1.2" />
<line x1="528.8" y1="222.9" x2="535.8" y2="222.9" stroke="#222" stroke-width="1.2" />
<circle cx="551.7" cy="181.1" r="2.1" fill="#fc0707"/>
<circle cx="547.2" cy="191.1" r="2.1" fill="#fc0707"/>
<circle cx="556.1" cy="191.1" r="2.1" fill="#fc0707"/>
<rect x="545.25" y="201.85" width="3.9" height="3.9" fill="#147af5"/>
<rect x="554.15" y="199.95" width="3.9" height="3.9" fill="#147af5"/>
<rect x="545.25" y="214.15" width="3.9" height="3.9" fill="#147af5"/>
<rect x="554.15" y="212.65" width="3.9" height="3.9" fill="#147af5"/>
<line x1="545.5" y1="188.1" x2="557.9000000000001" y2="188.1" stroke="#f03030" stroke-width="1.2" />
<line x1="551.7" y1="184.5" x2="551.7" y2="190.6" stroke="#222" stroke-width="1.2" />
<line x1="548.2" y1="184.5" x2="555.2" y2="184.5" stroke="#222" stroke-width="1.2" />
<line x1="545.5" y1="209.5" x2="557.9000000000001" y2="209.5" stroke="#222" stroke-width="1.2" />
<line x1="551.7" y1="205.7" x2="551.7" y2="212.3" stroke="#222" stroke-width="1.2" />
<line x1="548.2" y1="205.7" x2="555.2" y2="205.7" stroke="#222" stroke-width="1.2" />
<line x1="548.2" y1="212.3" x2="555.2" y2="212.3" stroke="#222" stroke-width="1.2" />
<circle cx="570.9" cy="176.7" r="2.1" fill="#fc0707"/>
<circle cx="566.1" cy="184.9" r="2.1" fill="#fc0707"/>
<circle cx="575.6" cy="184.9" r="2.1" fill="#fc0707"/>
<rect x="564.15" y="197.15" width="3.9" height="3.9" fill="#147af5"/>
<rect x="573.65" y="197.15" width="3.9" height="3.9" fill="#147af5"/>
<rect x="564.15" y="208.45" width="3.9" height="3.9" fill="#147af5"/>
<rect x="573.65" y="208.45" width="3.9" height="3.9" fill="#147af5"/>
<line x1="564.6999999999999" y1="182.6" x2="577.1" y2="182.6" stroke="#f03030" stroke-width="1.2" />
<line x1="570.9" y1="179.2" x2="570.9" y2="185.2" stroke="#222" stroke-width="1.2" />
<line x1="567.4" y1="179.2" x2="574.4" y2="179.2" stroke="#222" stroke-width="1.2" />
<line x1="564.6999999999999" y1="204.8" x2="577.1" y2="204.8" stroke="#222" stroke-width="1.2" />
<line x1="570.9" y1="201" x2="570.9" y2="207.6" stroke="#222" stroke-width="1.2" />
<line x1="567.4" y1="201" x2="574.4" y2="201" stroke="#222" stroke-width="1.2" />
<line x1="567.4" y1="207.6" x2="574.4" y2="207.6" stroke="#222" stroke-width="1.2" />
<circle cx="590.3" cy="174.9" r="2.1" fill="#fc0707"/>
<circle cx="585.6" cy="182.5" r="2.1" fill="#fc0707"/>
<circle cx="595.1" cy="181.1" r="2.1" fill="#fc0707"/>
<rect x="583.65" y="195.65" width="3.9" height="3.9" fill="#147af5"/>
<rect x="593.15" y="194.35" width="3.9" height="3.9" fill="#147af5"/>
<rect x="583.65" y="206.65" width="3.9" height="3.9" fill="#147af5"/>
<rect x="593.15" y="206.65" width="3.9" height="3.9" fill="#147af5"/>
<line x1="584.0999999999999" y1="179.5" x2="596.5" y2="179.5" stroke="#f03030" stroke-width="1.2" />
<line x1="590.3" y1="177" x2="590.3" y2="182" stroke="#222" stroke-width="1.2" />
<line x1="586.8" y1="177" x2="593.8" y2="177" stroke="#222" stroke-width="1.2" />
<line x1="584.0999999999999" y1="202.6" x2="596.5" y2="202.6" stroke="#222" stroke-width="1.2" />
<line x1="590.3" y1="199.4" x2="590.3" y2="205.8" stroke="#222" stroke-width="1.2" />
<line x1="586.8" y1="199.4" x2="593.8" y2="199.4" stroke="#222" stroke-width="1.2" />
<line x1="586.8" y1="205.8" x2="593.8" y2="205.8" stroke="#222" stroke-width="1.2" />
<circle cx="609.7" cy="174.9" r="2.1" fill="#fc0707"/>
<circle cx="605.6" cy="181.5" r="2.1" fill="#fc0707"/>
<circle cx="614.1" cy="179.2" r="2.1" fill="#fc0707"/>
<rect x="603.65" y="194.35" width="3.9" height="3.9" fill="#147af5"/>
<rect x="612.15" y="192.85" width="3.9" height="3.9" fill="#147af5"/>
<rect x="603.65" y="204.15" width="3.9" height="3.9" fill="#147af5"/>
<rect x="612.15" y="204.15" width="3.9" height="3.9" fill="#147af5"/>
<line x1="603.5" y1="179.2" x2="615.9000000000001" y2="179.2" stroke="#f03030" stroke-width="1.2" />
<line x1="609.7" y1="176.6" x2="609.7" y2="181.8" stroke="#222" stroke-width="1.2" />
<line x1="606.2" y1="176.6" x2="613.2" y2="176.6" stroke="#222" stroke-width="1.2" />
<line x1="603.5" y1="201.4" x2="615.9000000000001" y2="201.4" stroke="#222" stroke-width="1.2" />
<line x1="609.7" y1="198.4" x2="609.7" y2="204.4" stroke="#222" stroke-width="1.2" />
<line x1="606.2" y1="198.4" x2="613.2" y2="198.4" stroke="#222" stroke-width="1.2" />
<line x1="606.2" y1="204.4" x2="613.2" y2="204.4" stroke="#222" stroke-width="1.2" />
<circle cx="624.5" cy="176.8" r="2.1" fill="#fc0707"/>
<circle cx="624.5" cy="181.5" r="2.1" fill="#fc0707"/>
<circle cx="634" cy="180.6" r="2.1" fill="#fc0707"/>
<rect x="622.55" y="195.65" width="3.9" height="3.9" fill="#147af5"/>
<rect x="632.05" y="192.85" width="3.9" height="3.9" fill="#147af5"/>
<rect x="622.55" y="204.15" width="3.9" height="3.9" fill="#147af5"/>
<rect x="632.05" y="202.65" width="3.9" height="3.9" fill="#147af5"/>
<line x1="622.5999999999999" y1="179.2" x2="635.0" y2="179.2" stroke="#f03030" stroke-width="1.2" />
<line x1="628.8" y1="177" x2="628.8" y2="181.4" stroke="#222" stroke-width="1.2" />
<line x1="625.3" y1="177" x2="632.3" y2="177" stroke="#222" stroke-width="1.2" />
<line x1="622.5999999999999" y1="200.4" x2="635.0" y2="200.4" stroke="#222" stroke-width="1.2" />
<line x1="628.8" y1="197.4" x2="628.8" y2="203.4" stroke="#222" stroke-width="1.2" />
<line x1="625.3" y1="197.4" x2="632.3" y2="197.4" stroke="#222" stroke-width="1.2" />
<line x1="625.3" y1="203.4" x2="632.3" y2="203.4" stroke="#222" stroke-width="1.2" />
<line x1="563.7" y1="170.2" x2="579.7" y2="170.2" stroke="#333" stroke-width="1" />
<polygon points="571.50,164.60 572.12,166.25 573.88,166.33 572.50,167.42 572.97,169.12 571.50,168.15 570.03,169.12 570.50,167.42 569.12,166.33 570.88,166.25" fill="#222"/>
<line x1="582" y1="170.2" x2="598.5" y2="170.2" stroke="#333" stroke-width="1" />
<polygon points="590.00,164.60 590.62,166.25 592.38,166.33 591.00,167.42 591.47,169.12 590.00,168.15 588.53,169.12 589.00,167.42 587.62,166.33 589.38,166.25" fill="#222"/>
<line x1="600.8" y1="170.2" x2="617.5" y2="170.2" stroke="#333" stroke-width="1" />
<polygon points="609.30,164.60 609.92,166.25 611.68,166.33 610.30,167.42 610.77,169.12 609.30,168.15 607.83,169.12 608.30,167.42 606.92,166.33 608.68,166.25" fill="#222"/>
<line x1="620.1" y1="170.2" x2="636.8" y2="170.2" stroke="#333" stroke-width="1" />
<polygon points="628.30,164.60 628.92,166.25 630.68,166.33 629.30,167.42 629.77,169.12 628.30,168.15 626.83,169.12 627.30,167.42 625.92,166.33 627.68,166.25" fill="#222"/>
<text x="654.2" y="157.9" font-size="16" text-anchor="start" font-weight="bold" font-style="normal" fill="#111" stroke="#111" style="stroke-width:0.3px">f.</text>
<line x1="710.6" y1="170.905" x2="710.6" y2="287.6" stroke="#000" stroke-width="2.2" />
<line x1="704.4" y1="171.405" x2="710.6" y2="171.405" stroke="#000" stroke-width="2.2" />
<text x="703" y="175.805" font-size="12.5" text-anchor="end" font-weight="normal" font-style="normal" fill="#111"  stroke="#111">150</text>
<line x1="704.4" y1="209.76999999999998" x2="710.6" y2="209.76999999999998" stroke="#000" stroke-width="2.2" />
<text x="703" y="214.17" font-size="12.5" text-anchor="end" font-weight="normal" font-style="normal" fill="#111"  stroke="#111">100</text>
<line x1="704.4" y1="248.135" x2="710.6" y2="248.135" stroke="#000" stroke-width="2.2" />
<text x="703" y="252.535" font-size="12.5" text-anchor="end" font-weight="normal" font-style="normal" fill="#111"  stroke="#111">50</text>
<line x1="704.4" y1="286.5" x2="710.6" y2="286.5" stroke="#000" stroke-width="2.2" />
<text x="703" y="290.9" font-size="12.5" text-anchor="end" font-weight="normal" font-style="normal" fill="#111"  stroke="#111">0</text>
<line x1="704.4" y1="285.8" x2="786" y2="285.8" stroke="#000" stroke-width="2.2" />
<line x1="729.1" y1="285.8" x2="729.1" y2="291.1" stroke="#000" stroke-width="2.2" />
<line x1="767.2" y1="285.8" x2="767.2" y2="291.1" stroke="#000" stroke-width="2.2" />
<text transform="translate(676,288.3) rotate(-90)" font-size="12.5" fill="#111" stroke="#111">Holding impulse (N*s)</text>
<polyline points="730.9,193.3 730.9,184.6 768,184.6 768,234.2" fill="none" stroke="#5a5a5a" stroke-width="1.15"/>
<polygon points="742.70,178.50 743.32,180.05 744.98,180.16 743.70,181.22 744.11,182.84 742.70,181.95 741.29,182.84 741.70,181.22 740.42,180.16 742.08,180.05" fill="#222"/>
<polygon points="747.50,178.50 748.12,180.05 749.78,180.16 748.50,181.22 748.91,182.84 747.50,181.95 746.09,182.84 746.50,181.22 745.22,180.16 746.88,180.05" fill="#222"/>
<polygon points="752.30,178.50 752.92,180.05 754.58,180.16 753.30,181.22 753.71,182.84 752.30,181.95 750.89,182.84 751.30,181.22 750.02,180.16 751.68,180.05" fill="#222"/>
<polygon points="757.10,178.50 757.72,180.05 759.38,180.16 758.10,181.22 758.51,182.84 757.10,181.95 755.69,182.84 756.10,181.22 754.82,180.16 756.48,180.05" fill="#222"/>
<circle cx="722" cy="206.9" r="2.1" fill="#fc0707"/>
<circle cx="729.5" cy="209.5" r="2.1" fill="#fc0707"/>
<circle cx="737.1" cy="206.9" r="2.1" fill="#fc0707"/>
<circle cx="729.5" cy="229.8" r="2.1" fill="#fc0707"/>
<circle cx="737.1" cy="227.6" r="2.1" fill="#fc0707"/>
<circle cx="729.5" cy="239.6" r="2.1" fill="#fc0707"/>
<circle cx="729.5" cy="248.4" r="2.1" fill="#fc0707"/>
<line x1="719.9" y1="224.3" x2="738.9" y2="224.3" stroke="#222" stroke-width="1.2" />
<line x1="729.4" y1="218.2" x2="729.4" y2="230.5" stroke="#222" stroke-width="1.2" />
<line x1="724.1999999999999" y1="218.2" x2="734.6" y2="218.2" stroke="#222" stroke-width="1.2" />
<line x1="724.1999999999999" y1="230.5" x2="734.6" y2="230.5" stroke="#222" stroke-width="1.2" />
<rect x="760.15" y="251.55" width="3.9" height="3.9" fill="#147af5"/>
<rect x="765.25" y="248.45" width="3.9" height="3.9" fill="#147af5"/>
<rect x="769.95" y="248.45" width="3.9" height="3.9" fill="#147af5"/>
<rect x="757.75" y="257.65" width="3.9" height="3.9" fill="#147af5"/>
<rect x="772.45" y="257.65" width="3.9" height="3.9" fill="#147af5"/>
<rect x="762.25" y="260.75" width="3.9" height="3.9" fill="#147af5"/>
<rect x="767.95" y="260.75" width="3.9" height="3.9" fill="#147af5"/>
<rect x="765.25" y="265.85" width="3.9" height="3.9" fill="#147af5"/>
<rect x="765.25" y="276.05" width="3.9" height="3.9" fill="#147af5"/>
<line x1="761.0" y1="260.2" x2="773.4000000000001" y2="260.2" stroke="#222" stroke-width="1.2" />
<line x1="767.2" y1="257.6" x2="767.2" y2="262.7" stroke="#222" stroke-width="1.2" />
<line x1="763.2" y1="257.6" x2="771.2" y2="257.6" stroke="#222" stroke-width="1.2" />
<line x1="763.2" y1="262.7" x2="771.2" y2="262.7" stroke="#222" stroke-width="1.2" />
<text transform="translate(715.6,325) rotate(-45)" font-size="12.5" font-style="italic" fill="#111" stroke="#111">Ldb3<tspan font-size="7" dy="-3.6" dx="0.3">+/+</tspan></text>
<text transform="translate(734.5,344.5) rotate(-45)" font-size="12.5" font-style="italic" fill="#111" stroke="#111">Ldb3<tspan font-size="7" dy="-3.6" dx="0.3">Ala165Val/+</tspan></text>
</svg></body></html>
